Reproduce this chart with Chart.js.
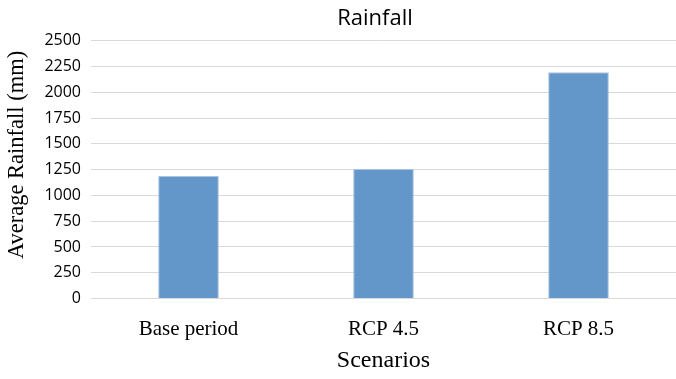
<!DOCTYPE html>
<html>
<head>
<meta charset="utf-8">
<script src="https://cdn.jsdelivr.net/npm/chart.js@4"></script>
<style>
  html, body { margin: 0; padding: 0; background: #fff; }
  #wrap { width: 676px; height: 379px; }
</style>
</head>
<body>
<div id="wrap"><canvas id="rainfall-chart"></canvas></div>
<script>
const scenarios = ["Base period", "RCP 4.5", "RCP 8.5"];
const avgRainfall = [1188, 1257, 2195];
const yTicks = [0, 250, 500, 750, 1000, 1250, 1500, 1750, 2000, 2250, 2500];
const chartTitle = "Rainfall";
const yTitle = "Average Rainfall (mm)";
const xTitle = "Scenarios";

// chart title and y title sit off-centre in the reference, so place them by hand
const sideTexts = {
  id: "sideTexts",
  afterDraw(chart) {
    const ctx = chart.ctx;
    ctx.save();
    ctx.fillStyle = "#000";
    ctx.textAlign = "center";
    ctx.textBaseline = "alphabetic";
    ctx.font = "22px 'Open Sans'";
    ctx.fillText(chartTitle, 375, 25);

    ctx.translate(23, 155);
    ctx.rotate(-Math.PI / 2);
    ctx.font = "22.5px 'Liberation Serif'";
    ctx.fillText(yTitle, 0, 0);
    ctx.restore();
  },
};

const rainfallCtx = document.getElementById("rainfall-chart").getContext("2d");

new Chart(rainfallCtx, {
  type: "bar",
  plugins: [sideTexts],
  data: {
    labels: scenarios,
    datasets: [
      {
        label: chartTitle,
        data: avgRainfall,
        backgroundColor: "#6497c9",
        borderColor: "#a9c4e2",
        borderWidth: 1,
        barPercentage: 1,
        categoryPercentage: 0.311,
      },
    ],
  },
  options: {
    responsive: true,
    maintainAspectRatio: false,
    animation: false,
    layout: { padding: { left: 0, right: -8, top: 40.7, bottom: 0 } },
    plugins: {
      legend: { display: false },
      tooltip: { enabled: false },
      title: { display: false },
    },
    scales: {
      y: {
        min: 0,
        max: 2500,
        afterBuildTicks: (scale) => {
          scale.ticks = yTicks.map((v) => ({ value: v }));
        },
        afterFit: (scale) => {
          scale.width = 91;
        },
        border: { display: false },
        grid: { color: "#d9d9d9", drawTicks: false },
        ticks: {
          color: "#000",
          padding: 10,
          font: { size: 16, family: "Open Sans" },
          callback: (v) => String(v),
        },
      },
      x: {
        afterFit: (scale) => {
          scale.height = 80.5;
        },
        border: { display: false },
        grid: { display: false },
        ticks: {
          color: "#000",
          padding: 10,
          font: { size: 21, family: "Liberation Serif" },
        },
        title: {
          display: true,
          text: xTitle,
          color: "#000",
          padding: { top: 0, bottom: 3.6 },
          font: { size: 24, family: "Liberation Serif" },
        },
      },
    },
  },
});
</script>
</body>
</html>
